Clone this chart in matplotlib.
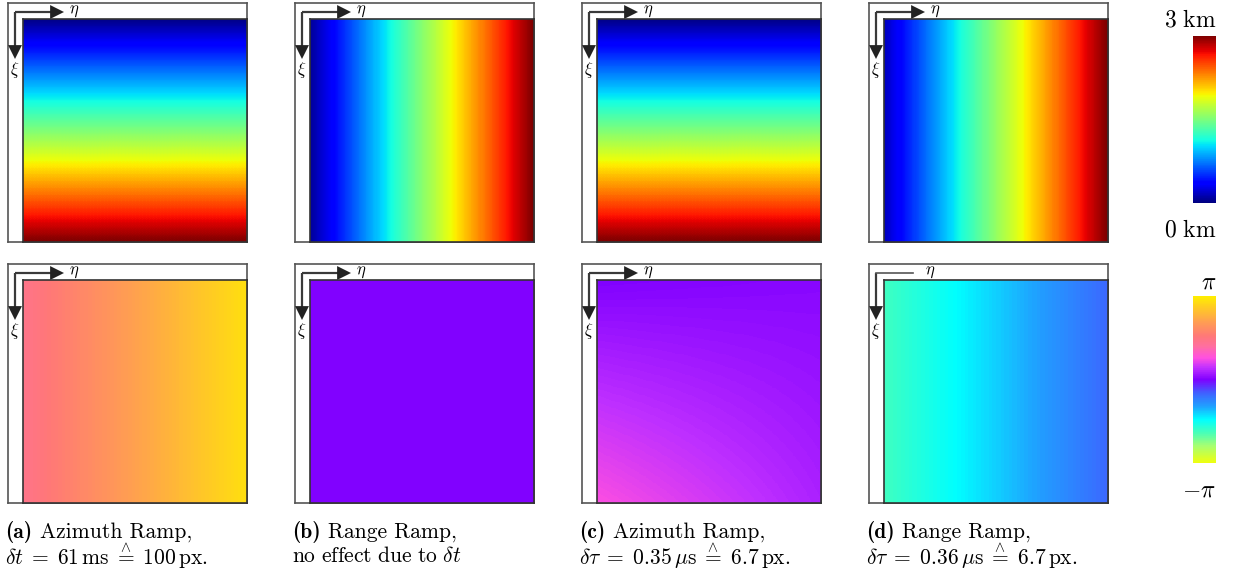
import numpy as np
import matplotlib
matplotlib.use("Agg")
import matplotlib.pyplot as plt
from matplotlib.colors import LinearSegmentedColormap, Normalize
from matplotlib.cm import ScalarMappable

plt.rcParams['mathtext.fontset'] = 'cm'
plt.rcParams['font.family'] = ['cmr10', 'DejaVu Serif']
plt.rcParams['axes.unicode_minus'] = False

# ---------------- data ----------------
panel_tags = ['(a)', '(b)', '(c)', '(d)']
caption_line1 = ['Azimuth Ramp,', 'Range Ramp,', 'Azimuth Ramp,', 'Range Ramp,']
caption_line2 = [r'$\delta t \;=\; 61\,\mathrm{ms} \;\overset{\wedge}{=}\; 100\,\mathrm{px.}$',
                 r'$\mathrm{no\ effect\ due\ to}\ \delta t$',
                 r'$\delta\tau \;=\; 0.35\,\mu\mathrm{s} \;\overset{\wedge}{=}\; 6.7\,\mathrm{px.}$',
                 r'$\delta\tau \;=\; 0.36\,\mu\mathrm{s} \;\overset{\wedge}{=}\; 6.7\,\mathrm{px.}$']

# height ramps (km) at image corners: top-left, top-right, bottom-left, bottom-right
height_tl = [0.0, 0.05, 0.0, 0.15]
height_tr = [0.0, 3.0, 0.0, 3.0]
height_bl = [3.0, 0.05, 3.0, 0.15]
height_br = [3.0, 3.0, 3.0, 3.0]

# phase ramps (rad) at image corners
phase_tl = [1.45, 0.0, 0.0, -1.95]
phase_tr = [2.95, 0.0, 0.06, -0.57]
phase_bl = [1.45, 0.0, 0.80, -1.95]
phase_br = [2.95, 0.0, 0.30, -0.57]

height_range = [0.0, 3.0]
height_labels = [r'$3\ \mathrm{km}$', r'$0\ \mathrm{km}$']
phase_range = [-np.pi, np.pi]
phase_labels = [r'$\pi$', r'$-\pi$']

# arrowhead on eta axis drawn? (bottom-right panel lacks it)
eta_head = [[True, True, True, True], [True, True, True, False]]

# ---------------- colormaps ----------------
phase_cmap = LinearSegmentedColormap.from_list('phase', [
    (0.00, '#eeff10'), (0.10, '#a8ff70'), (0.18, '#48ffb8'), (0.26, '#00ffff'),
    (0.34, '#20a0ff'), (0.42, '#4060ff'), (0.50, '#8000ff'), (0.57, '#c030ff'),
    (0.63, '#ff50e0'), (0.70, '#ff6fa0'), (0.76, '#ff7878'), (0.85, '#ffa050'),
    (1.00, '#ffee00')])
height_cmap = plt.get_cmap('jet')

W, H = 1240, 575
fig = plt.figure(figsize=(12.4, 5.75), dpi=100)

def px_axes(x, y, w, h):
    return fig.add_axes([x / W, 1 - (y + h) / H, w / W, h / H])

col_left = [8, 295, 582, 869]
row_top = [3, 264]
FS = 239        # frame size
OX, OY = 15, 16 # image offset inside frame
edge = '#3a3a3a'

fields = [
    (height_tl, height_tr, height_bl, height_br, height_cmap, height_range),
    (phase_tl, phase_tr, phase_bl, phase_br, phase_cmap, phase_range),
]

for r, (tl, tr, bl, br, cmap, vr) in enumerate(fields):
    for c in range(4):
        x0, y0 = col_left[c], row_top[r]
        fax = px_axes(x0, y0, FS, FS)
        fax.set_xlim(0, FS)
        fax.set_ylim(FS, 0)
        fax.set_xticks([]); fax.set_yticks([])
        for s in fax.spines.values():
            s.set_color('#555555'); s.set_linewidth(1.2)
        cx, cy = 7, 9
        fax.plot([cx, cx], [cy, 46], color=edge, lw=1.6, solid_capstyle='butt')
        fax.annotate('', xy=(cx, 56), xytext=(cx, 44),
                     arrowprops=dict(arrowstyle='-|>,head_length=1.0,head_width=0.5',
                                     color='#222222', lw=0, shrinkA=0, shrinkB=0))
        if eta_head[r][c]:
            fax.plot([cx, 45], [cy, cy], color=edge, lw=1.6, solid_capstyle='butt')
            fax.annotate('', xy=(56, cy), xytext=(44, cy),
                         arrowprops=dict(arrowstyle='-|>,head_length=1.0,head_width=0.5',
                                         color='#222222', lw=0, shrinkA=0, shrinkB=0))
            fax.text(61, cy - 1, r'$\eta$', fontsize=12, va='center', ha='left')
        else:
            fax.plot([cx, 44], [cy, cy], color='#555555', lw=1.2)
            fax.text(56, cy - 1, r'$\eta$', fontsize=12, va='center', ha='left')
        fax.text(cx, 67, r'$\xi$', fontsize=12, va='center', ha='center')

        iax = px_axes(x0 + OX, y0 + OY, FS - OX, FS - OY)
        grid = np.array([[tl[c], tr[c]], [bl[c], br[c]]])
        iax.imshow(grid, cmap=cmap, vmin=vr[0], vmax=vr[1],
                   extent=[-0.5, 1.5, 1.5, -0.5], interpolation='bilinear',
                   interpolation_stage='data', aspect='auto')
        iax.set_xlim(0, 1); iax.set_ylim(1, 0)
        iax.set_xticks([]); iax.set_yticks([])
        for s in iax.spines.values():
            s.set_color('#333333'); s.set_linewidth(1.2)

# captions
CFS = 15.5
renderer = fig.canvas.get_renderer()
for c in range(4):
    xl = (col_left[c] - 3) / W
    t = fig.text(xl, 1 - 532 / H, panel_tags[c], fontsize=CFS, family='cmb10',
                 ha='left', va='center')
    bb = t.get_window_extent(renderer)
    fig.text((bb.x1 + 0.36 * CFS * 100 / 72) / W, 1 - 532 / H, caption_line1[c],
             fontsize=CFS, family='cmr10', ha='left', va='center')
    fig.text(xl, 1 - 556 / H, caption_line2[c], fontsize=CFS, ha='left', va='center')

# colorbars
cb_specs = [(36, height_cmap, height_range, height_labels, 20, 230),
            (296, phase_cmap, phase_range, phase_labels, 282, 490)]
for top, cmap, vr, labels, ly_top, ly_bot in cb_specs:
    cax = px_axes(1193, top, 23, 167)
    cb = fig.colorbar(ScalarMappable(norm=Normalize(vr[0], vr[1]), cmap=cmap), cax=cax)
    cb.set_ticks([])
    cb.outline.set_visible(False)
    fig.text(1216 / W, 1 - ly_top / H, labels[0], fontsize=17, ha='right', va='center')
    fig.text(1216 / W, 1 - ly_bot / H, labels[1], fontsize=17, ha='right', va='center')

fig.savefig('out.png', dpi=100)
